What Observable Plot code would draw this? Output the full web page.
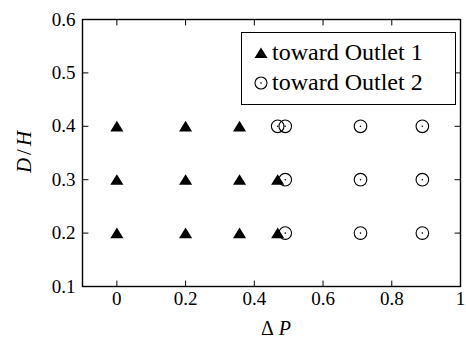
<!DOCTYPE html>
<html>
<head>
<meta charset="utf-8">
<script src="https://cdn.jsdelivr.net/npm/d3@7"></script>
<script src="https://cdn.jsdelivr.net/npm/@observablehq/plot@0.6"></script>
<style>
  html, body { margin: 0; padding: 0; background: #fff; }
  #wrap { position: relative; width: 466px; height: 341px; font-family: 'Liberation Serif', 'Times New Roman', Times, serif; }
  #legend { position: absolute; left: 241px; top: 32px; width: 213px; height: 71px; border: 1.5px solid #000; background: #fff; }
  .row { position: absolute; left: 0; height: 30px; display: flex; align-items: center; font-size: 24px; color: #000; white-space: nowrap; }
  .row svg { margin-left: 12px; margin-right: 4px; }
</style>
</head>
<body>
<div id="wrap"></div>
<script>
// Data
const outlet1DP = [0, 0, 0, 0.2, 0.2, 0.2, 0.357, 0.357, 0.357, 0.468, 0.468];
const outlet1DH = [0.2, 0.3, 0.4, 0.2, 0.3, 0.4, 0.2, 0.3, 0.4, 0.2, 0.3];
const outlet2DP = [0.468, 0.49, 0.49, 0.49, 0.709, 0.709, 0.709, 0.889, 0.889, 0.889];
const outlet2DH = [0.4, 0.2, 0.3, 0.4, 0.2, 0.3, 0.4, 0.2, 0.3, 0.4];
const xTicks = [0, 0.2, 0.4, 0.6, 0.8, 1];
const yTicks = [0.1, 0.2, 0.3, 0.4, 0.5, 0.6];
const seriesLabels = ["toward Outlet 1", "toward Outlet 2"];
const xLabel = ["Δ", "P"];
const yLabel = ["D", "/", "H"];

const outlet1 = outlet1DP.map((d, i) => ({dp: d, dh: outlet1DH[i]}));
const outlet2 = outlet2DP.map((d, i) => ({dp: d, dh: outlet2DH[i]}));

const triangle = {
  draw(ctx, size) {
    const s = Math.sqrt(size);
    ctx.moveTo(0, -0.62 * s);
    ctx.lineTo(0.74 * s, 0.58 * s);
    ctx.lineTo(-0.74 * s, 0.58 * s);
    ctx.closePath();
  }
};
const tickShape = {
  draw(ctx, l) { ctx.moveTo(0, 0); ctx.lineTo(0, -l); }
};

const font = "'Liberation Serif', 'Times New Roman', Times, serif";
const tl = 5.5;

const plot = Plot.plot({
  width: 466,
  height: 341,
  marginLeft: 82,
  marginRight: 6,
  marginTop: 19,
  marginBottom: 55,
  style: {fontFamily: font, fontSize: "19px", color: "#000", background: "#fff"},
  x: {domain: [-0.1, 1]},
  y: {domain: [0.1, 0.6]},
  marks: [
    Plot.axisX(xTicks, {anchor: "bottom", tickSize: 0, tickPadding: 5, fontSize: 19, label: null, tickFormat: d => String(d)}),
    Plot.axisY(yTicks, {anchor: "left", tickSize: 0, tickPadding: 7, fontSize: 19, label: null, tickFormat: d => String(d)}),
    // inward ticks on all four sides
    Plot.vector(xTicks, {x: d => d, y: 0.1, length: tl, rotate: 0, anchor: "start", shape: tickShape, stroke: "black", strokeWidth: 1}),
    Plot.vector(xTicks, {x: d => d, y: 0.6, length: tl, rotate: 180, anchor: "start", shape: tickShape, stroke: "black", strokeWidth: 1}),
    Plot.vector(yTicks, {x: -0.1, y: d => d, length: tl, rotate: 90, anchor: "start", shape: tickShape, stroke: "black", strokeWidth: 1}),
    Plot.vector(yTicks, {x: 1, y: d => d, length: tl, rotate: 270, anchor: "start", shape: tickShape, stroke: "black", strokeWidth: 1}),
    Plot.dot(outlet2, {x: "dp", y: "dh", r: 6.3, stroke: "black", strokeWidth: 1.1, fill: "none"}),
    Plot.dot(outlet2, {x: "dp", y: "dh", r: 0.8, fill: "black", stroke: "none"}),
    Plot.dot(outlet1, {x: "dp", y: "dh", r: 5, symbol: triangle, fill: "black", stroke: "none"}),
    Plot.frame({stroke: "black", strokeWidth: 1.4})
  ]
});

const wrap = document.getElementById("wrap");
wrap.appendChild(plot);

// Axis labels with italic math variables
const svg = d3.select(plot);
const xl = svg.append("text")
  .attr("x", 276).attr("y", 335)
  .attr("text-anchor", "middle")
  .attr("font-family", font).attr("font-size", 20).attr("fill", "black");
xl.append("tspan").text(xLabel[0]);
xl.append("tspan").attr("font-style", "italic").attr("dx", 5).text(xLabel[1]);

const yl = svg.append("text")
  .attr("transform", "translate(31,152) rotate(-90)")
  .attr("text-anchor", "middle")
  .attr("font-family", font).attr("font-size", 21).attr("fill", "black");
yl.append("tspan").attr("font-style", "italic").text(yLabel[0]);
yl.append("tspan").attr("dx", 3).text(yLabel[1]);
yl.append("tspan").attr("font-style", "italic").attr("dx", 3).text(yLabel[2]);

// Legend
const legend = document.createElement("div");
legend.id = "legend";
const symbolsSvg = [
  '<svg width="14" height="14" viewBox="-7 -7 14 14"><path d="M0,-5.5L6.5,5.1L-6.5,5.1Z" fill="black"/></svg>',
  '<svg width="14" height="14" viewBox="-7 -7 14 14"><circle r="6" fill="none" stroke="black" stroke-width="1.1"/><circle r="0.8" fill="black"/></svg>'
];
seriesLabels.forEach((lab, i) => {
  const row = document.createElement("div");
  row.className = "row";
  row.style.top = (4.5 + i * 30) + "px";
  row.innerHTML = symbolsSvg[i] + "<span>" + lab + "</span>";
  legend.appendChild(row);
});
wrap.appendChild(legend);
</script>
</body>
</html>
